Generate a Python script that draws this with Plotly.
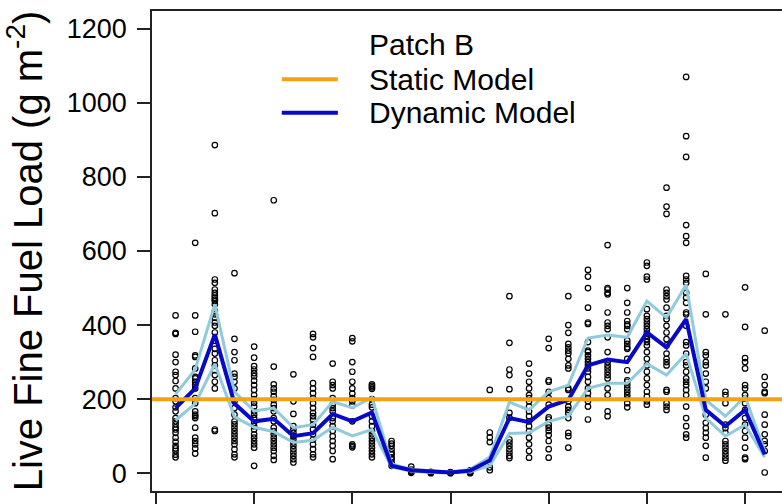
import plotly.graph_objects as go

# Sampling periods (x positions) and axis ticks
periods = list(range(1, 32))
x_ticks = [0, 5, 10, 15, 20, 25, 30]
y_ticks = [0, 200, 400, 600, 800, 1000, 1200]

# Static model: a single constant fuel load
static_load = 200

# Dynamic model: mean prediction and its upper / lower envelope
dyn_mean = [176, 229, 375, 188, 140, 147, 100, 108, 160, 140, 164, 20, 8, 4, 2, 7,
            34, 149, 138, 180, 198, 291, 307, 300, 380, 340, 416, 171, 127, 171, 51]
dyn_upper = [213, 280, 456, 220, 168, 176, 123, 131, 193, 177, 204, 25, 10, 6, 3, 10,
             44, 192, 171, 220, 238, 365, 373, 367, 465, 420, 509, 198, 154, 207, 60]
dyn_lower = [143, 188, 295, 152, 124, 112, 83, 89, 124, 101, 118, 17, 6, 2, 1, 4,
             20, 107, 109, 140, 154, 229, 243, 243, 296, 265, 323, 149, 100, 131, 43]

# Field observations of live fine fuel load, one list per period
obs_p01 = [426, 379, 376, 320, 300, 274, 265, 249, 229, 203, 194, 178, 167, 149, 140, 132,
           124, 118, 109, 96, 85, 74, 67, 60, 50, 43]
obs_p02 = [622, 426, 382, 318, 314, 283, 260, 256, 247, 238, 229, 203, 189, 167, 158, 154,
           149, 123, 96, 87, 78, 67, 53]
obs_p03 = [886, 702, 523, 514, 496, 487, 480, 474, 469, 465, 456, 438, 429, 420, 407, 398,
           380, 358, 336, 323, 305, 291, 278, 265, 247, 229, 118, 114]
obs_p04 = [540, 363, 327, 305, 269, 260, 247, 229, 194, 176, 158, 140, 132, 123, 114, 105,
           96, 87, 78, 65, 51, 43]
obs_p05 = [342, 312, 289, 280, 270, 262, 250, 238, 225, 211, 200, 190, 180, 167, 158, 149,
           136, 127, 118, 105, 96, 87, 78, 69, 20]
obs_p06 = [737, 288, 240, 229, 220, 208, 198, 185, 176, 167, 149, 140, 123, 114, 105, 96,
           87, 78, 69, 60, 47, 36]
obs_p07 = [267, 194, 160, 127, 118, 109, 100, 91, 83, 74, 65, 56, 47, 38, 29]
obs_p08 = [376, 367, 338, 314, 243, 229, 216, 203, 189, 176, 163, 154, 145, 131, 118, 105,
           91, 78, 65, 51, 43]
obs_p09 = [296, 247, 238, 229, 203, 185, 176, 167, 149, 140, 127, 114, 100, 87, 74, 60, 38]
obs_p10 = [365, 356, 300, 274, 247, 229, 215, 203, 194, 183, 140, 78, 74, 70]
obs_p11 = [240, 236, 232, 228, 200, 185, 178, 154, 140, 127, 114, 105, 96, 87, 78, 69,
           60, 51, 43]
obs_p12 = [87, 80, 74, 65, 56, 51, 43, 38, 29, 20]
obs_p13 = [18, 10, 6, 3, 1]
obs_p14 = [4, 2, 0]
obs_p15 = [3, 1, 0]
obs_p16 = [8, 4, 2, 0]
obs_p17 = [225, 110, 97, 84, 16, 8]
obs_p18 = [478, 352, 280, 265, 227, 163, 150, 91, 83, 74, 65, 56, 47, 41]
obs_p19 = [296, 269, 247, 229, 211, 203, 194, 180, 167, 154, 140, 127, 114, 96, 78, 60, 42]
obs_p20 = [363, 338, 251, 247, 220, 203, 185, 151, 145, 131, 123, 114, 103, 87, 65, 42]
obs_p21 = [478, 400, 379, 349, 340, 331, 323, 309, 291, 283, 229, 225, 194, 180, 171, 162,
           149, 109, 100, 69]
obs_p22 = [549, 531, 500, 447, 407, 403, 354, 331, 327, 318, 309, 300, 291, 283, 274, 260,
           247, 229, 216, 203, 194, 180, 145]
obs_p23 = [616, 500, 496, 487, 483, 434, 407, 398, 389, 367, 327, 300, 291, 283, 274, 265,
           256, 229, 211, 167, 154]
obs_p24 = [500, 460, 434, 411, 402, 398, 389, 358, 349, 340, 336, 309, 278, 251, 247, 238,
           229, 220, 211, 202, 189, 178]
obs_p25 = [569, 560, 531, 523, 443, 425, 416, 407, 398, 389, 380, 371, 362, 354, 345, 327,
           309, 291, 274, 256, 238, 220, 207, 194, 185]
obs_p26 = [771, 720, 700, 496, 487, 478, 469, 447, 425, 416, 398, 380, 362, 345, 323, 309,
           300, 291, 225, 220, 189, 180, 171]
obs_p27 = [1070, 910, 854, 670, 640, 622, 533, 523, 514, 487, 474, 460, 434, 429, 398, 354,
           345, 323, 300, 291, 274, 256, 247, 238, 225, 211, 180, 149, 127, 105, 96]
obs_p28 = [538, 429, 327, 318, 300, 291, 269, 247, 229, 158, 136, 122, 109, 96, 74, 42]
obs_p29 = [429, 220, 211, 189, 131, 122, 109, 87, 78, 69, 60, 51, 42, 34]
obs_p30 = [502, 395, 311, 300, 283, 238, 229, 211, 202, 189, 171, 149, 131, 114, 96, 69,
           42, 38]
obs_p31 = [385, 260, 238, 220, 216, 158, 131, 105, 87, 78, 60, 2]

observations = [obs_p01, obs_p02, obs_p03, obs_p04, obs_p05, obs_p06, obs_p07, obs_p08,
                obs_p09, obs_p10, obs_p11, obs_p12, obs_p13, obs_p14, obs_p15, obs_p16,
                obs_p17, obs_p18, obs_p19, obs_p20, obs_p21, obs_p22, obs_p23, obs_p24,
                obs_p25, obs_p26, obs_p27, obs_p28, obs_p29, obs_p30, obs_p31]

ORANGE = "#F2A30F"
BLUE = "#0808C8"
LIGHT_BLUE = "#8FCADD"
FONT = "Liberation Sans, Arial, Helvetica, sans-serif"

obs_x, obs_y = [], []
for p, vals in zip(periods, observations):
    obs_x += [p] * len(vals)
    obs_y += vals

fig = go.Figure()

fig.add_trace(go.Scatter(
    x=obs_x, y=obs_y, mode="markers", name="Observed",
    marker=dict(symbol="circle-open", size=5.5, color="black", line=dict(width=1.2)),
    showlegend=False,
))

for band in (dyn_upper, dyn_lower):
    fig.add_trace(go.Scatter(
        x=periods, y=band, mode="lines", showlegend=False,
        line=dict(color=LIGHT_BLUE, width=3),
    ))

fig.add_trace(go.Scatter(
    x=periods, y=dyn_mean, mode="lines", name="Dynamic Model", showlegend=False,
    line=dict(color=BLUE, width=4),
))

fig.add_trace(go.Scatter(
    x=[-1, 40], y=[static_load, static_load], mode="lines", name="Static Model",
    showlegend=False, line=dict(color=ORANGE, width=4),
))

# Legend block: title, key lines and labels
fig.add_annotation(x=0.341, y=0.930, xref="paper", yref="paper", text="Patch B",
                   showarrow=False, xanchor="left", yanchor="middle",
                   font=dict(family=FONT, size=30, color="black"))
for label, color, ypos in (("Static Model", ORANGE, 0.858), ("Dynamic Model", BLUE, 0.788)):
    fig.add_shape(type="line", xref="paper", yref="paper", x0=0.206, x1=0.295,
                  y0=ypos, y1=ypos, line=dict(color=color, width=4))
    fig.add_annotation(x=0.341, y=ypos, xref="paper", yref="paper", text=label,
                       showarrow=False, xanchor="left", yanchor="middle",
                       font=dict(family=FONT, size=30, color="black"))

fig.update_layout(
    width=782, height=504,
    margin=dict(l=152, r=0, t=11, b=7),
    paper_bgcolor="white", plot_bgcolor="white",
    font=dict(family=FONT, color="black"),
    showlegend=False,
)

fig.update_xaxes(
    range=[-0.2, 31.88], tickmode="array", tickvals=x_ticks, showticklabels=False,
    ticks="outside", ticklen=13, tickwidth=1.5, tickcolor="#222",
    showline=True, linecolor="#222", linewidth=1.5, mirror=True,
    showgrid=False, zeroline=False,
)

fig.update_yaxes(
    range=[-48, 1248], tickmode="array", tickvals=y_ticks,
    ticks="outside", ticklen=13, tickwidth=1.5, tickcolor="#222",
    tickfont=dict(family=FONT, size=27, color="black"), ticklabelstandoff=5,
    showline=True, linecolor="#222", linewidth=1.5, mirror=False,
    showgrid=False, zeroline=False,
    title=dict(text="Live Fine Fuel Load (g m<sup>-2</sup>)",
               font=dict(family=FONT, size=40, color="black"), standoff=20),
)

fig.write_html("out.html")
